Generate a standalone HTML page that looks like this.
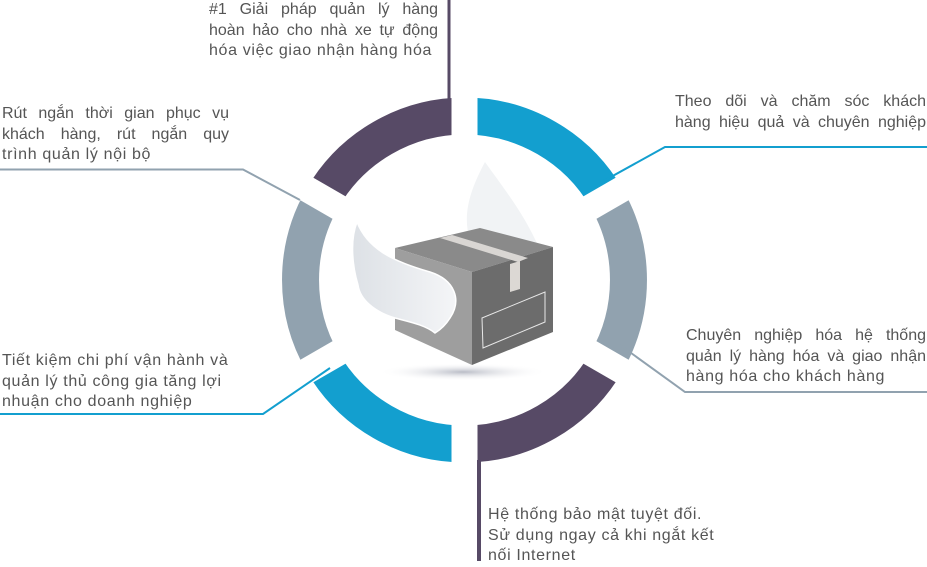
<!DOCTYPE html>
<html><head><meta charset="utf-8"><style>
html,body{margin:0;padding:0;background:#fff;}
body{width:927px;height:561px;position:relative;overflow:hidden;font-family:"Liberation Sans","DejaVu Sans",sans-serif;}
.t{position:absolute;color:#555;font-size:16px;line-height:20.5px;}
.t div{white-space:nowrap;letter-spacing:0.65px;}
.t .j{text-align:justify;text-align-last:justify;letter-spacing:0;}
svg{position:absolute;left:0;top:0;}
</style></head><body>
<svg width="927" height="561" viewBox="0 0 927 561">
<defs>
<radialGradient id="sh" cx="50%" cy="50%" r="50%"><stop offset="0" stop-color="#b9bcc6"/><stop offset="1" stop-color="#fff" stop-opacity="0"/></radialGradient>
<linearGradient id="wg" x1="0" x2="1"><stop offset="0" stop-color="#dde1e6"/><stop offset="1" stop-color="#f4f5f7"/></linearGradient>
</defs>
<g fill="none" stroke-width="37">
<path d="M464.5 116 A164 164 0 0 1 606.5 198" stroke="#139fcf"/>
<path d="M606.5 198 A164 164 0 0 1 606.5 362" stroke="#91a2af"/>
<path d="M606.5 362 A164 164 0 0 1 464.5 444" stroke="#574a66"/>
<path d="M464.5 444 A164 164 0 0 1 322.5 362" stroke="#139fcf"/>
<path d="M322.5 362 A164 164 0 0 1 322.5 198" stroke="#91a2af"/>
<path d="M322.5 198 A164 164 0 0 1 464.5 116" stroke="#574a66"/>
</g>
<g stroke="#fff" stroke-width="26">
<line x1="464.5" y1="60" x2="464.5" y2="500"/>
<line x1="637.7" y1="380" x2="291.3" y2="180"/>
<line x1="291.3" y1="380" x2="637.7" y2="180"/>
</g>
<g fill="none" stroke-width="2">
<polyline points="600,183 665,147 927,147" stroke="#139fcf"/>
<polyline points="0,169.5 243,169.5 300,200" stroke="#91a2af"/>
<polyline points="620,345 685,392 927,392" stroke="#91a2af"/>
<polyline points="330,368 263,414 0,414" stroke="#139fcf"/>
</g>
<line x1="449" y1="0" x2="449" y2="100" stroke="#574a66" stroke-width="3"/>
<line x1="479" y1="460" x2="479" y2="561" stroke="#574a66" stroke-width="4"/>
<ellipse cx="463" cy="372" rx="85" ry="9" fill="url(#sh)"/>
<path d="M485 162 C470 190 462 215 470 240 L540 250 C525 215 505 190 485 162 Z" fill="#f1f3f5"/>
<polygon points="395,248 480,228 553,247 472,272" fill="#8a8a8a"/>
<polygon points="395,248 472,272 472,365 395,330" fill="#9e9e9e"/>
<polygon points="472,272 553,247 553,332 472,365" fill="#6c6c6c"/>
<polygon points="440,238 452,235 528,258 518,262" fill="#d9d6d3"/>
<polygon points="510,264 520,261 520,289 510,292" fill="#dcd8d4"/>
<polygon points="482,318 545,292 545,322 483,348" fill="none" stroke="#e8e8e8" stroke-width="1"/>
<path d="M357 222 C368 250 395 262 430 272 C455 280 462 300 450 318 C445 326 440 330 435 333 C425 325 410 322 395 318 C375 312 360 300 358 285 C352 265 350 240 357 222 Z" fill="url(#wg)" stroke="#fff" stroke-width="1.5"/>
</svg>
<div class="t" style="left:209px;top:0px;width:229px;"><div class="j">#1 Giải pháp quản lý hàng</div><div class="j">hoàn hảo cho nhà xe tự động</div><div>hóa việc giao nhận hàng hóa</div></div>
<div class="t" style="left:2px;top:104px;width:227px;"><div class="j">Rút ngắn thời gian phục vụ</div><div class="j">khách hàng, rút ngắn quy</div><div>trình quản lý nội bộ</div></div>
<div class="t" style="left:675px;top:92px;width:251px;"><div class="j">Theo dõi và chăm sóc khách</div><div class="j">hàng hiệu quả và chuyên nghiệp</div></div>
<div class="t" style="left:686px;top:326px;width:240px;"><div class="j">Chuyên nghiệp hóa hệ thống</div><div class="j">quản lý hàng hóa và giao nhận</div><div>hàng hóa cho khách hàng</div></div>
<div class="t" style="left:2px;top:351px;width:252px;"><div>Tiết kiệm chi phí vận hành và</div><div>quản lý thủ công gia tăng lợi</div><div>nhuận cho doanh nghiệp</div></div>
<div class="t" style="left:488px;top:505px;width:258px;"><div>Hệ thống bảo mật tuyệt đối.</div><div>Sử dụng ngay cả khi ngắt kết</div><div>nối Internet</div></div>
</body></html>
